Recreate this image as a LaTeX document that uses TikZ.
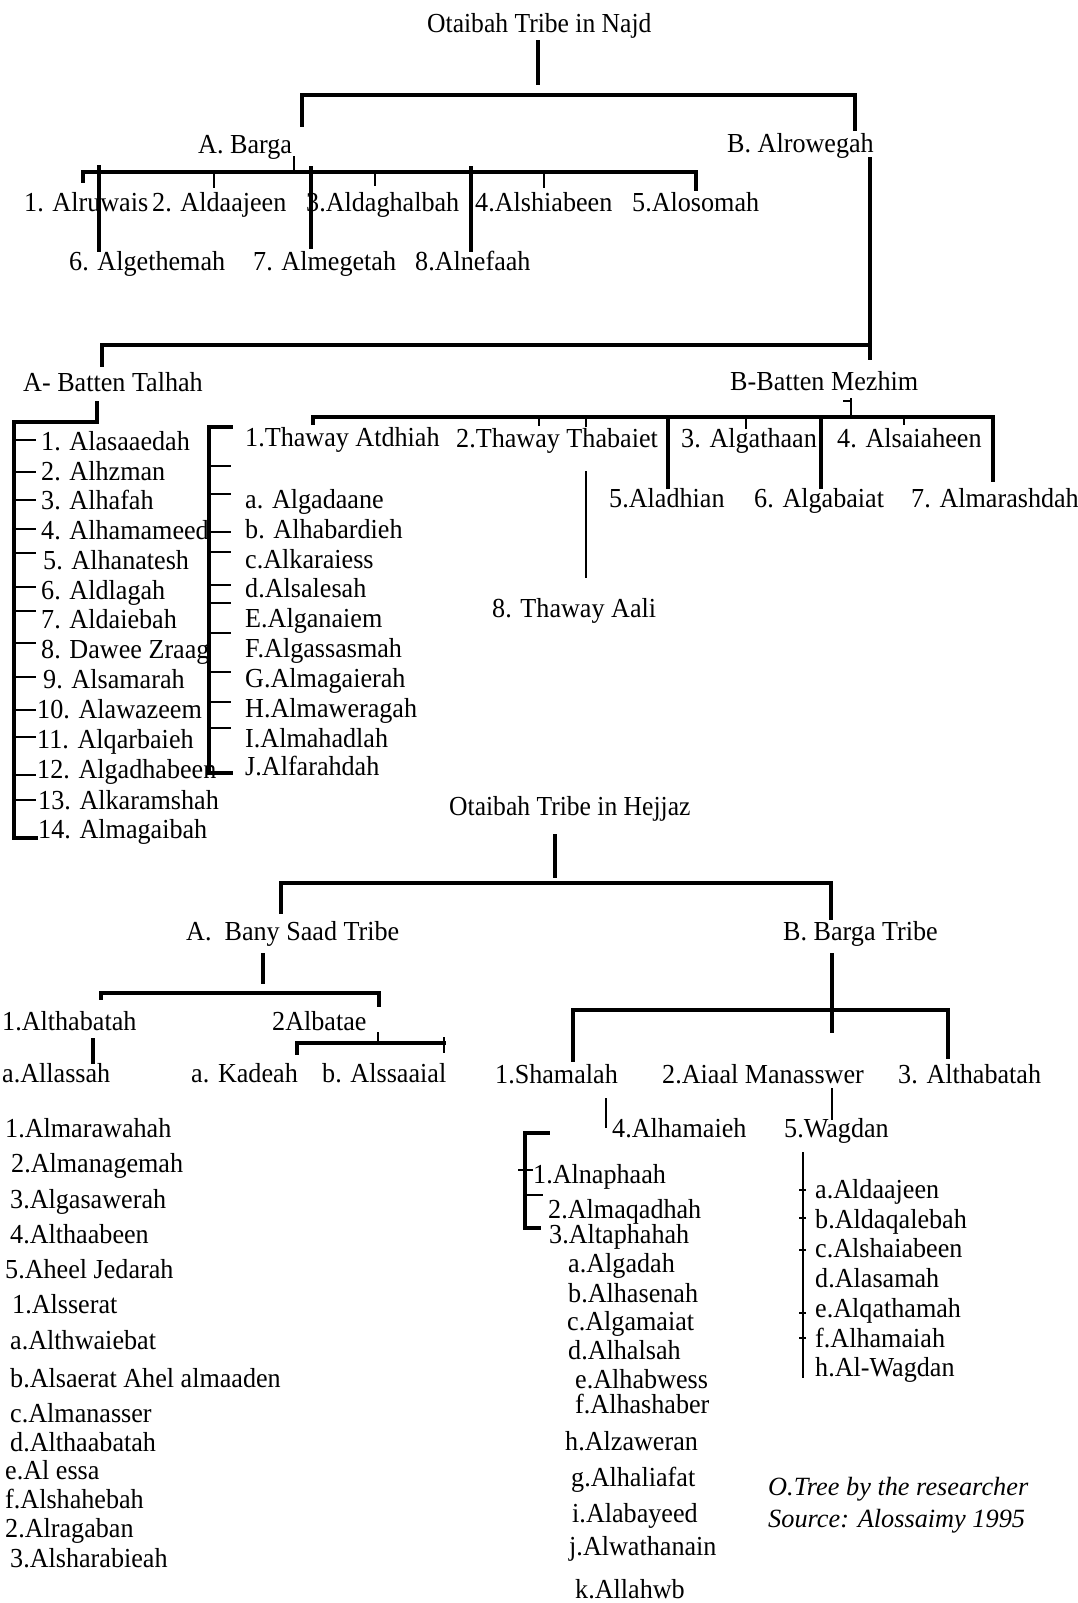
\documentclass[tikz,border=0pt]{standalone}
\usepackage{fontspec}
\setmainfont{Liberation Serif}[FakeStretch=0.95]
\newfontfamily\titlefont{Liberation Serif}[FakeStretch=0.93]
\newfontfamily\creditfont{Liberation Serif}
\begin{document}
\begin{tikzpicture}[x=1pt,y=-1pt,
  lbl/.style={anchor=base west,inner sep=0pt,font=\fontsize{27.5}{30}\selectfont},
  ttl/.style={anchor=base west,inner sep=0pt,font=\titlefont\fontsize{27.5}{30}\selectfont},
  crd/.style={anchor=base west,inner sep=0pt,font=\creditfont\itshape\fontsize{26.3}{30}\selectfont},
  main/.style={line width=3.4pt,line cap=rect,line join=miter},
  thin/.style={line width=2.2pt,line cap=rect},
  tick/.style={line width=2.6pt}]
\fill[white] (0,0) rectangle (1078,1603);
\useasboundingbox (0,0) rectangle (1078,1603);

% ---------------- Najd ----------------
\node[ttl] (najd) at (427,33) {Otaibah Tribe in Najd};
\node[lbl] (barga) at (198,153) {A. Barga};
\node[lbl] (rowegah) at (727,152) {B. Alrowegah};
\draw[main] (538,42) coordinate (najdS) -- (538,83) coordinate (najdE);
\draw[main] (302,125) coordinate (bargaN) -- (302,95) -- (855,95) -- (855,129) coordinate (rowN);

\node[lbl] (b1) at (24,211) {1. Alruwais};
\node[lbl] (b2) at (152,211) {2. Aldaajeen};
\node[lbl] (b3) at (306,211) {3.Aldaghalbah};
\node[lbl] (b4) at (475,211) {4.Alshiabeen};
\node[lbl] (b5) at (632,211) {5.Alosomah};
\node[lbl] (b6) at (69,270) {6. Algethemah};
\node[lbl] (b7) at (253,270) {7. Almegetah};
\node[lbl] (b8) at (415,270) {8.Alnefaah};

\draw[tick] (294,156) coordinate (bargaS) -- (294,172);
\draw[main] (83,181) -- (83,172) -- (696,172) -- (696,189) coordinate (b5N);
\draw[main] (99,167) -- (99,250) coordinate (b6N);
\draw[tick] (214,172) -- (214,188);
\draw[main] (311,168) -- (311,247) coordinate (b7N);
\draw[tick] (375,172) -- (375,186);
\draw[main] (471,168) -- (471,250) coordinate (b8N);
\draw[tick] (544,172) -- (544,188);

% Alrowegah branch
\node[lbl] (talhah) at (23,391) {A- Batten Talhah};
\node[lbl] (mezhim) at (730,390) {B-Batten Mezhim};
\draw[main] (870,159) coordinate (rowS) -- (870,358) coordinate (mezN);
\draw[main] (102,365) coordinate (talN) -- (102,345) -- (870,345);

% Talhah list
\draw[main] (97,403) coordinate (talS) -- (97,422) -- (14,422) -- (14,838) -- (36,838);
\foreach \y in {440,472,500,529,553,587,611,643,677,710,737,775,800}
  \draw[tick] (14,\y) -- (36,\y);
\node[lbl] (t1) at (41,450) {1. Alasaaedah};
\node[lbl] (t2) at (41,480) {2. Alhzman};
\node[lbl] (t3) at (41,509) {3. Alhafah};
\node[lbl] (t4) at (41,539) {4. Alhamameed};
\node[lbl] (t5) at (43,569) {5. Alhanatesh};
\node[lbl] (t6) at (41,599) {6. Aldlagah};
\node[lbl] (t7) at (41,628) {7. Aldaiebah};
\node[lbl] (t8) at (41,658) {8. Dawee Zraag};
\node[lbl] (t9) at (43,688) {9. Alsamarah};
\node[lbl] (t10) at (37,718) {10. Alawazeem};
\node[lbl] (t11) at (37,748) {11. Alqarbaieh};
\node[lbl] (t12) at (37,778) {12. Algadhabeen};
\node[lbl] (t13) at (38,809) {13. Alkaramshah};
\node[lbl] (t14) at (38,838) {14. Almagaibah};

% Thaway Atdhiah list
\draw[main] (231,427) -- (209,427) -- (209,773) -- (231,773);
\foreach \y in {466,494,532,552,585,603,633,672,702,728}
  \draw[tick] (209,\y) -- (231,\y);
\node[lbl] (m1) at (245,446) {1.Thaway Atdhiah};
\node[lbl] (ma) at (245,508) {a. Algadaane};
\node[lbl] (mb) at (245,538) {b. Alhabardieh};
\node[lbl] (mc) at (245,568) {c.Alkaraiess};
\node[lbl] (md) at (245,597) {d.Alsalesah};
\node[lbl] (me) at (245,627) {E.Alganaiem};
\node[lbl] (mf) at (245,657) {F.Algassasmah};
\node[lbl] (mg) at (245,687) {G.Almagaierah};
\node[lbl] (mh) at (245,717) {H.Almaweragah};
\node[lbl] (mi) at (245,747) {I.Almahadlah};
\node[lbl] (mj) at (245,775) {J.Alfarahdah};

% Mezhim
\node[lbl] (m2) at (456,447) {2.Thaway Thabaiet};
\node[lbl] (m3) at (681,447) {3. Algathaan};
\node[lbl] (m4) at (837,447) {4. Alsaiaheen};
\node[lbl] (m5) at (609,507) {5.Aladhian};
\node[lbl] (m6) at (754,507) {6. Algabaiat};
\node[lbl] (m7) at (911,507) {7. Almarashdah};
\node[lbl] (m8) at (492,617) {8. Thaway Aali};
\draw[tick] (851,398) coordinate (mezS) -- (851,417);
\draw[tick] (843,401) -- (851,401);
\draw[main] (313,423) -- (313,417) -- (993,417) -- (993,480) coordinate (m7N);
\draw[tick] (539,417) -- (539,426);
\draw[tick] (586,417) -- (586,427);
\draw[main] (668,417) -- (668,487) coordinate (m5N);
\draw[tick] (746,417) -- (746,429);
\draw[main] (821,417) -- (821,487) coordinate (m6N);
\draw[tick] (904,417) -- (904,425);
\draw[thin] (586,472) -- (586,577) coordinate (m8N);

% ---------------- Hejjaz ----------------
\node[ttl] (hejjaz) at (449,815) {Otaibah Tribe in Hejjaz};
\node[lbl] (bany) at (186,940) {A.\ \ Bany Saad Tribe};
\node[lbl] (bargat) at (783,940) {B. Barga Tribe};
\draw[main] (555,836) coordinate (hejS) -- (555,876);
\draw[main] (281,912) coordinate (banyN) -- (281,883) -- (831,883) -- (831,918) coordinate (bargatN);

% Bany Saad
\node[lbl] (s1) at (2,1030) {1.Althabatah};
\node[lbl] (s2) at (272,1030) {2Albatae};
\node[lbl] (sa) at (2,1082) {a.Allassah};
\node[lbl] (ska) at (191,1082) {a. Kadeah};
\node[lbl] (skb) at (322,1082) {b. Alssaaial};
\draw[main] (263,955) coordinate (banyS) -- (263,982);
\draw[main] (101,998) -- (101,993) -- (379,993) -- (379,1005);
\draw[tick] (378,1032) -- (378,1043);
\draw[main] (297,1053) -- (297,1043) -- (444,1043);
\draw[tick] (444,1037) -- (444,1053);
\draw[main] (93,1040) -- (93,1062);

\node[lbl] (l1) at (5,1137) {1.Almarawahah};
\node[lbl] (l2) at (11,1172) {2.Almanagemah};
\node[lbl] (l3) at (10,1208) {3.Algasawerah};
\node[lbl] (l4) at (10,1243) {4.Althaabeen};
\node[lbl] (l5) at (5,1278) {5.Aheel Jedarah};
\node[lbl] (l6) at (12,1313) {1.Alsserat};
\node[lbl] (l7) at (10,1349) {a.Althwaiebat};
\node[lbl] (l8) at (10,1387) {b.Alsaerat Ahel almaaden};
\node[lbl] (l9) at (10,1422) {c.Almanasser};
\node[lbl] (l10) at (10,1451) {d.Althaabatah};
\node[lbl] (l11) at (5,1479) {e.Al essa};
\node[lbl] (l12) at (5,1508) {f.Alshahebah};
\node[lbl] (l13) at (5,1537) {2.Alragaban};
\node[lbl] (l14) at (10,1567) {3.Alsharabieah};

% Barga Tribe
\node[lbl] (g1) at (495,1083) {1.Shamalah};
\node[lbl] (g2) at (662,1083) {2.Aiaal Manasswer};
\node[lbl] (g3) at (898,1083) {3. Althabatah};
\node[lbl] (g4) at (612,1137) {4.Alhamaieh};
\node[lbl] (g5) at (784,1137) {5.Wagdan};
\draw[main] (832,955) coordinate (bargatS) -- (832,1031);
\draw[main] (573,1060) coordinate (g1N) -- (573,1010) -- (948,1010) -- (948,1057) coordinate (g3N);
\draw[tick] (832,1088) -- (832,1120) coordinate (g5N);
\draw[tick] (606,1098) -- (606,1128) coordinate (g4W);

% Shamalah list
\draw[main] (548,1133) -- (525,1133) -- (525,1228) -- (539,1228);
\draw[tick] (518,1170) -- (533,1170);
\draw[tick] (525,1195) -- (543,1195);
\node[lbl] (h1) at (533,1183) {1.Alnaphaah};
\node[lbl] (h2) at (548,1218) {2.Almaqadhah};
\node[lbl] (h3) at (549,1243) {3.Altaphahah};
\node[lbl] (ha) at (568,1272) {a.Algadah};
\node[lbl] (hb) at (568,1302) {b.Alhasenah};
\node[lbl] (hc) at (567,1330) {c.Algamaiat};
\node[lbl] (hd) at (568,1359) {d.Alhalsah};
\node[lbl] (he) at (575,1388) {e.Alhabwess};
\node[lbl] (hf) at (575,1413) {f.Alhashaber};
\node[lbl] (hh) at (565,1450) {h.Alzaweran};
\node[lbl] (hg) at (571,1486) {g.Alhaliafat};
\node[lbl] (hi) at (572,1522) {i.Alabayeed};
\node[lbl] (hj) at (569,1555) {j.Alwathanain};
\node[lbl] (hk) at (575,1598) {k.Allahwb};

% Wagdan list
\draw[thin] (803,1153) -- (803,1377);
\foreach \y in {1190,1218,1250,1313,1338}
  \draw[tick] (799,\y) -- (806,\y);
\node[lbl] (w1) at (815,1198) {a.Aldaajeen};
\node[lbl] (w2) at (815,1228) {b.Aldaqalebah};
\node[lbl] (w3) at (815,1257) {c.Alshaiabeen};
\node[lbl] (w4) at (815,1287) {d.Alasamah};
\node[lbl] (w5) at (815,1317) {e.Alqathamah};
\node[lbl] (w6) at (815,1347) {f.Alhamaiah};
\node[lbl] (w7) at (815,1376) {h.Al-Wagdan};

% credit
\node[crd] (cr1) at (768,1495) {O.Tree by the researcher};
\node[crd] (cr2) at (768,1527) {Source: Alossaimy 1995};
\end{tikzpicture}
\end{document}
